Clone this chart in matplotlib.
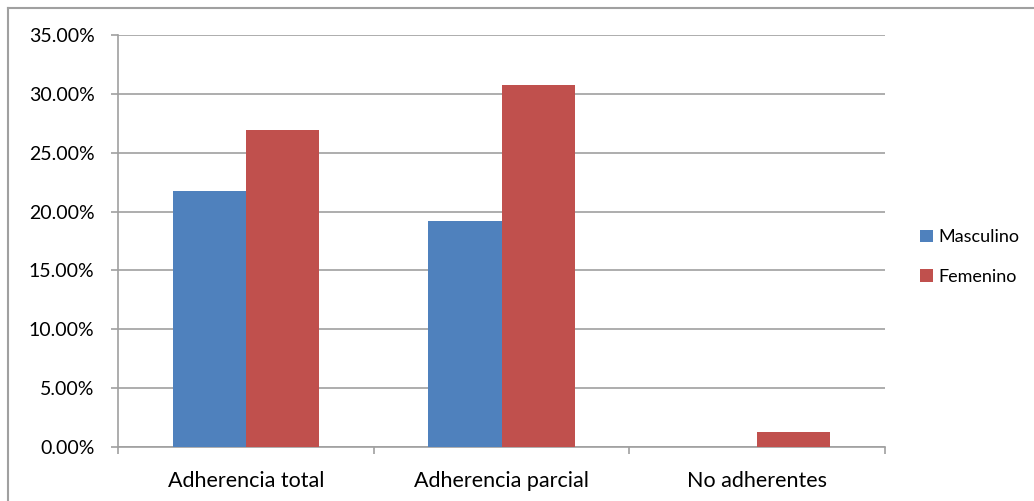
import matplotlib.pyplot as plt
import numpy as np
from matplotlib.lines import Line2D
from matplotlib.ticker import FuncFormatter

categorias = ["Adherencia total", "Adherencia parcial", "No adherentes"]
masculino = [21.79, 19.23, 0.0]
femenino = [26.92, 30.77, 1.28]
series = ["Masculino", "Femenino"]
colores = ["#4F81BD", "#C0504D"]

plt.rcParams['font.family'] = ['Lato', 'DejaVu Sans']

fig = plt.figure(figsize=(10.34, 5.01), dpi=100)
ax = fig.add_axes([118/1034, 54/501, 767/1034, 412/501])

x = np.arange(len(categorias))
w = 1 / 3.5
ax.bar(x - w/2, masculino, w, color=colores[0], label=series[0], zorder=3)
ax.bar(x + w/2, femenino, w, color=colores[1], label=series[1], zorder=3)

ax.set_xlim(-0.5, len(categorias) - 0.5)
ax.set_ylim(0, 35)
ax.set_yticks(np.arange(0, 35.1, 5))
ax.yaxis.set_major_formatter(FuncFormatter(lambda v, p: f"{v:.2f}%"))
ax.grid(axis='y', color='#a0a0a0', linewidth=1.2, zorder=0)

# category labels in the middle, ticks on the boundaries
ax.set_xticks(x)
ax.set_xticklabels(categorias)
ax.tick_params(axis='x', length=0, pad=17, labelsize=15.5)
ax.set_xticks(np.arange(-0.5, len(categorias)), minor=True)
ax.tick_params(axis='x', which='minor', length=5, color='#a0a0a0', width=1.2)
ax.tick_params(axis='y', length=5, color='#a0a0a0', width=1.2, labelsize=14, pad=12)

for s in ['top', 'right']:
    ax.spines[s].set_visible(False)
for s in ['left', 'bottom']:
    ax.spines[s].set_color('#a0a0a0')
    ax.spines[s].set_linewidth(1.2)

ax.legend(loc='center left', bbox_to_anchor=(904/1034, 0.487), bbox_transform=fig.transFigure,
          frameon=False, fontsize=13, handlelength=0.7, handleheight=0.7,
          handletextpad=0.3, labelspacing=1.3)

# chart frame
fig.add_artist(Line2D([8/1034, 1], [1 - 8/501, 1 - 8/501], color='#a0a0a0', linewidth=1.5))
fig.add_artist(Line2D([8/1034, 8/1034], [0, 1 - 8/501], color='#a0a0a0', linewidth=1.5))

fig.savefig('out.png', dpi=100)
